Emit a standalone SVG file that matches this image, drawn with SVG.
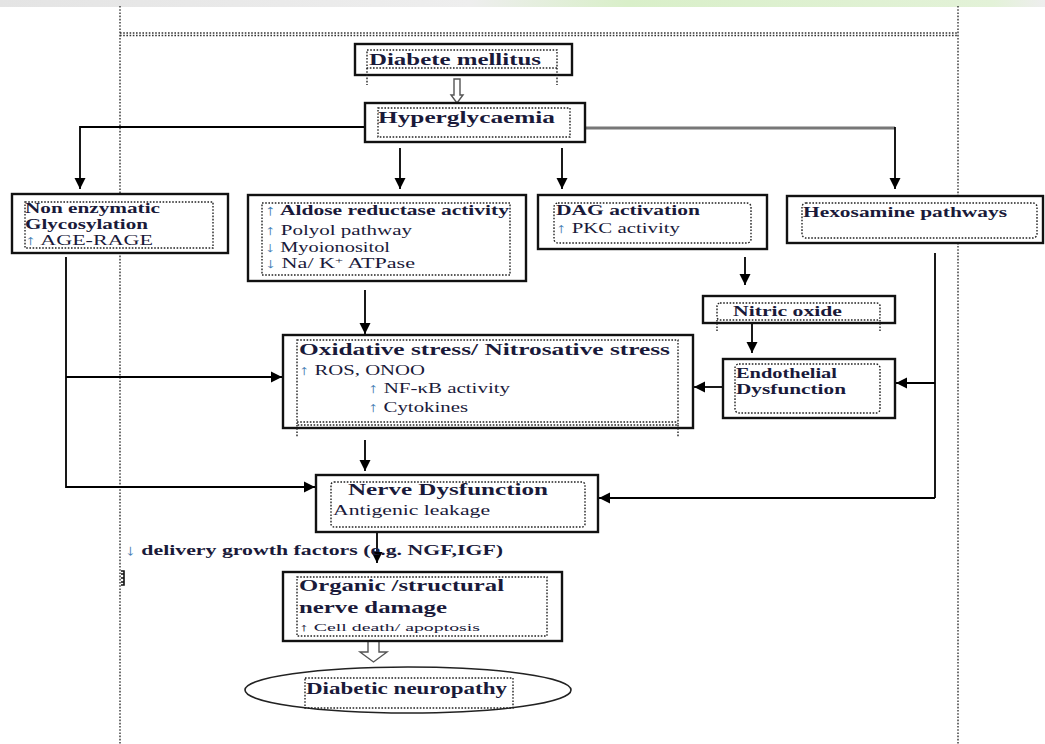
<svg xmlns="http://www.w3.org/2000/svg" width="1045" height="744" viewBox="0 0 1045 744">
<defs>
<linearGradient id="band" x1="0" y1="0" x2="1" y2="0">
<stop offset="0" stop-color="#e4e4e4"/>
<stop offset="0.45" stop-color="#eeeeee"/>
<stop offset="0.6" stop-color="#d9efc9"/>
<stop offset="0.95" stop-color="#e3f2d8"/>
<stop offset="1" stop-color="#eeeeee"/>
</linearGradient>
<marker id="ah" markerUnits="userSpaceOnUse" markerWidth="12" markerHeight="12" refX="11" refY="6" orient="auto">
<path d="M0,0.5 L11,6 L0,11.5 z" fill="#000"/>
</marker>
<style>
.box{fill:#fff;stroke:#111;stroke-width:2.4}
.dot{fill:none;stroke:#222;stroke-width:1.4;stroke-dasharray:1.6 1.6}
.frame{fill:none;stroke:#333;stroke-width:1.4;stroke-dasharray:1.6 1.6}
.con{fill:none;stroke:#000;stroke-width:1.8}
.arr{marker-end:url(#ah)}
.hollow{fill:#fff;stroke:#555;stroke-width:1.4}
text{font-family:"Liberation Serif","Times New Roman",serif;fill:#1a1a3a}
.h{font-weight:bold;font-size:17px}
.s{font-size:14px}
.sb{font-size:15px;font-weight:bold}
.up{fill:#4a7fb5}
</style>
</defs>
<rect x="0" y="0" width="1045" height="744" fill="#fff"/>
<rect x="0" y="0" width="1045" height="7" fill="url(#band)"/>
<g id="frame">
<line class="frame" x1="120" y1="6" x2="120" y2="744"/>
<line class="frame" x1="958" y1="6" x2="958" y2="744"/>
<line class="frame" x1="120" y1="33" x2="958" y2="33"/>
<line class="frame" x1="120" y1="35.5" x2="958" y2="35.5"/>
</g>
<g id="connectors">
<path class="con arr" d="M365,127 H80 V189"/>
<path class="con arr" d="M400,148 V189"/>
<path class="con arr" d="M562,148 V189"/>
<line x1="585" y1="128" x2="895" y2="128" stroke="#777" stroke-width="3"/>
<path class="con arr" d="M895,127 V189"/>
<path class="con arr" d="M745,257 V285"/>
<path class="con arr" d="M752,323 V353"/>
<path class="con arr" d="M365,290 V334"/>
<path class="con arr" d="M66,257 V487 H315"/>
<path class="con arr" d="M66,377 H282"/>
<path class="con arr" d="M723,387 H694"/>
<path class="con" d="M935,253 V498" stroke="#333"/>
<path class="con arr" d="M935,498 H599"/>
<path class="con arr" d="M935,383 H896"/>
<path class="con arr" d="M365,440 V471"/>
<path class="con arr" d="M377,532 V563"/>
<path class="hollow" d="M454,79 H460 V95 H463 L457,103 L451,95 H454 z"/>
<path class="hollow" d="M368,641 H379 V652 H387 L373.5,662 L360,652 H368 z"/>
<path d="M121,571 H124 V585 H121 M121,574 H124 M121,578 H124 M121,582 H124" fill="none" stroke="#111" stroke-width="1.6"/>
</g>
<g id="diabete">
<rect class="box" x="355" y="44" width="217" height="31"/>
<rect class="dot" x="367" y="50" width="190" height="18"/>
<line class="dot" x1="367" y1="68" x2="367" y2="85"/>
<line class="dot" x1="557" y1="68" x2="557" y2="85"/>
<text class="h" x="369" y="65" textLength="172" lengthAdjust="spacingAndGlyphs">Diabete mellitus</text>
</g>
<g id="hyperglycaemia">
<rect class="box" x="365" y="103" width="220" height="39"/>
<rect class="dot" x="378" y="108" width="192" height="29"/>
<text class="h" x="378" y="123" textLength="177" lengthAdjust="spacingAndGlyphs">Hyperglycaemia</text>
</g>
<g id="nonenzymatic">
<rect class="box" x="12" y="194" width="216" height="59"/>
<rect class="dot" x="25" y="202" width="188" height="46"/>
<text class="sb" x="25" y="213" textLength="135" lengthAdjust="spacingAndGlyphs">Non enzymatic</text>
<text class="sb" x="25" y="229" textLength="123" lengthAdjust="spacingAndGlyphs">Glycosylation</text>
<text class="s" x="25" y="245" textLength="128" lengthAdjust="spacingAndGlyphs"><tspan class="up">↑</tspan> AGE-RAGE</text>
</g>
<g id="aldose">
<rect class="box" x="248" y="195" width="278" height="86"/>
<rect class="dot" x="262" y="203" width="248" height="72"/>
<text class="sb" x="265" y="215" textLength="244" lengthAdjust="spacingAndGlyphs"><tspan class="up">↑</tspan> Aldose reductase activity</text>
<text class="s" x="265" y="235" textLength="147" lengthAdjust="spacingAndGlyphs"><tspan class="up">↑</tspan> Polyol pathway</text>
<text class="s" x="265" y="252" textLength="125" lengthAdjust="spacingAndGlyphs"><tspan class="up">↓</tspan> Myoionositol</text>
<text class="s" x="265" y="268" textLength="150" lengthAdjust="spacingAndGlyphs"><tspan class="up">↓</tspan> Na/ K<tspan font-size="9" dy="-5">+</tspan><tspan dy="5"> ATPase</tspan></text>
</g>
<g id="dag">
<rect class="box" x="538" y="195" width="229" height="54"/>
<rect class="dot" x="554" y="203" width="197" height="40" rx="4"/>
<text class="sb" x="556" y="215" textLength="144" lengthAdjust="spacingAndGlyphs">DAG activation</text>
<text class="s" x="556" y="233" textLength="124" lengthAdjust="spacingAndGlyphs"><tspan class="up">↑</tspan> PKC activity</text>
</g>
<g id="hexosamine">
<rect class="box" x="787" y="196" width="256" height="47"/>
<rect class="dot" x="802" y="203" width="235" height="35" rx="4"/>
<text class="sb" x="803" y="217" textLength="204" lengthAdjust="spacingAndGlyphs">Hexosamine pathways</text>
</g>
<g id="nitric">
<rect class="box" x="703" y="296" width="192" height="27"/>
<rect class="dot" x="717" y="303" width="163" height="17" rx="3"/>
<line class="dot" x1="717" y1="320" x2="717" y2="331"/>
<line class="dot" x1="880" y1="320" x2="880" y2="331"/>
<text class="sb" x="733" y="316" textLength="109" lengthAdjust="spacingAndGlyphs">Nitric oxide</text>
</g>
<g id="endothelial">
<rect class="box" x="723" y="359" width="172" height="59"/>
<rect class="dot" x="735" y="364" width="145" height="49" rx="4"/>
<text class="sb" x="736" y="378" textLength="101" lengthAdjust="spacingAndGlyphs">Endothelial</text>
<text class="sb" x="736" y="394" textLength="110" lengthAdjust="spacingAndGlyphs">Dysfunction</text>
</g>
<g id="oxidative">
<rect class="box" x="283" y="335" width="410" height="93"/>
<rect class="dot" x="297" y="340" width="381" height="85"/>
<line class="dot" x1="297" y1="422" x2="678" y2="422"/>
<line class="dot" x1="297" y1="425" x2="297" y2="437"/>
<line class="dot" x1="678" y1="425" x2="678" y2="437"/>
<text class="h" x="299" y="355" textLength="371" lengthAdjust="spacingAndGlyphs">Oxidative stress/ Nitrosative stress</text>
<text class="s" x="299" y="375" textLength="126" lengthAdjust="spacingAndGlyphs"><tspan class="up">↑</tspan> ROS, ONOO</text>
<text class="s" x="368" y="393" textLength="142" lengthAdjust="spacingAndGlyphs"><tspan class="up">↑</tspan> NF-κB activity</text>
<text class="s" x="368" y="412" textLength="100" lengthAdjust="spacingAndGlyphs"><tspan class="up">↑</tspan> Cytokines</text>
</g>
<g id="nerve">
<rect class="box" x="316" y="475" width="282" height="57"/>
<rect class="dot" x="331" y="482" width="254" height="45" rx="3"/>
<text class="h" x="348" y="495" textLength="200" lengthAdjust="spacingAndGlyphs">Nerve Dysfunction</text>
<text class="s" x="333" y="515" textLength="157" lengthAdjust="spacingAndGlyphs">Antigenic leakage</text>
</g>
<g id="delivery">
<text class="sb" x="125" y="555" font-size="14" textLength="378" lengthAdjust="spacingAndGlyphs"><tspan class="up">↓</tspan> delivery growth factors (e.g. NGF,IGF)</text>
</g>
<g id="organic">
<rect class="box" x="283" y="572" width="279" height="69"/>
<rect class="dot" x="297" y="577" width="250" height="59"/>
<text class="h" x="299" y="591" textLength="205" lengthAdjust="spacingAndGlyphs">Organic /structural</text>
<text class="h" x="299" y="613" textLength="148" lengthAdjust="spacingAndGlyphs">nerve damage</text>
<text x="299" y="631" font-size="11" fill="#8a4a2a" textLength="181" lengthAdjust="spacingAndGlyphs">↑ Cell death/ apoptosis</text>
</g>
<g id="neuropathy">
<ellipse cx="408" cy="690" rx="163" ry="23" fill="#fff" stroke="#222" stroke-width="1.6"/>
<rect class="dot" x="305" y="678" width="208" height="30"/>
<text class="h" x="306" y="694" textLength="201" lengthAdjust="spacingAndGlyphs">Diabetic neuropathy</text>
</g>
</svg>
